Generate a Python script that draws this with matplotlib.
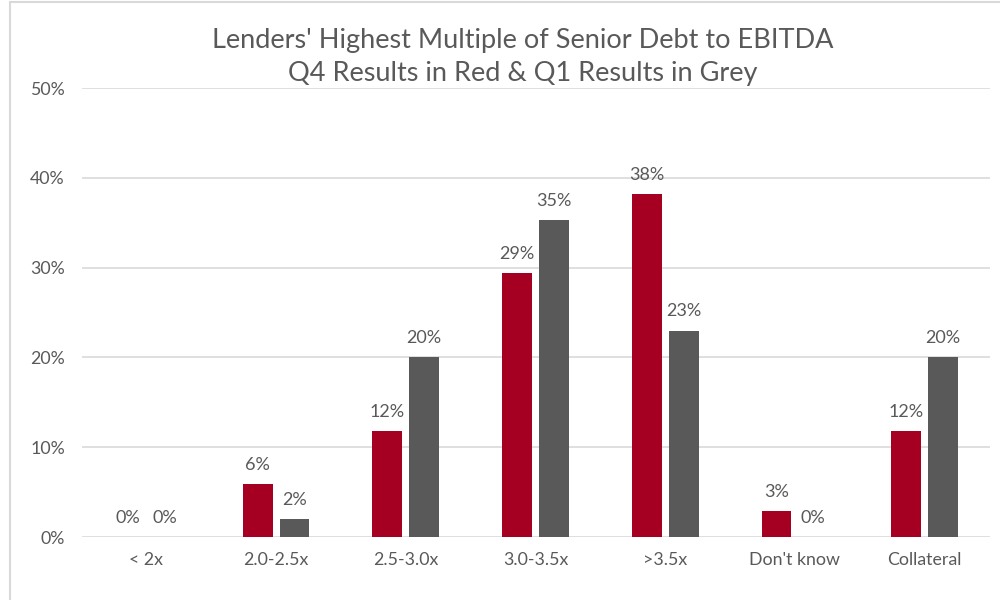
import numpy as np
import matplotlib.pyplot as plt
from matplotlib.patches import Rectangle

plt.rcParams['font.family'] = ['Lato', 'DejaVu Sans']

categories = ['< 2x', '2.0-2.5x', '2.5-3.0x', '3.0-3.5x', '>3.5x', "Don't know", 'Collateral']
q4_values = [0.0, 5.9, 11.8, 29.4, 38.2, 2.9, 11.8]
q1_values = [0.0, 2.0, 20.0, 35.3, 23.0, 0.0, 20.0]
yticks = [0, 10, 20, 30, 40, 50]

RED = '#A50021'
GREY = '#595959'
TXT = '#595959'
GRID = '#D9D9D9'

fig = plt.figure(figsize=(10, 6), dpi=100)
ax = fig.add_axes([0.0815, 0.105, 0.908, 0.748])

x = np.arange(len(categories))
w = 0.23
off = 0.142
ax.bar(x - off, q4_values, width=w, color=RED, zorder=3)
ax.bar(x + off, q1_values, width=w, color=GREY, zorder=3)

# подписи над столбцами
for xi, v in zip(x - off, q4_values):
    ax.annotate('{:.0f}%'.format(v), (xi, v), xytext=(0, 8), textcoords='offset points',
                ha='center', va='bottom', fontsize=13, color=TXT)
for xi, v in zip(x + off, q1_values):
    ax.annotate('{:.0f}%'.format(v), (xi, v), xytext=(0, 8), textcoords='offset points',
                ha='center', va='bottom', fontsize=13, color=TXT)

ax.set_xlim(-0.5, len(categories) - 0.5)
ax.set_ylim(0, 50)
ax.set_yticks(yticks)
ax.set_yticklabels(['{}%'.format(t) for t in yticks])
ax.set_xticks(x)
ax.set_xticklabels(categories)
ax.tick_params(axis='both', length=0, labelsize=12.8, labelcolor=TXT)
ax.tick_params(axis='y', pad=12)
ax.tick_params(axis='x', pad=11)
ax.yaxis.grid(True, color=GRID, linewidth=1.2, zorder=0)
for s in ax.spines.values():
    s.set_visible(False)

fig.text(0.523, 0.932, "Lenders' Highest Multiple of Senior Debt to EBITDA",
         ha='center', va='center', fontsize=19.5, color=TXT)
fig.text(0.523, 0.878, 'Q4 Results in Red & Q1 Results in Grey',
         ha='center', va='center', fontsize=19.5, color=TXT)

# рамка диаграммы
fig.patches.append(Rectangle((0.01, -0.1), 1.2, 1.0967, transform=fig.transFigure,
                             fill=False, edgecolor=GRID, linewidth=1.5))

fig.savefig('out.png', dpi=100)
